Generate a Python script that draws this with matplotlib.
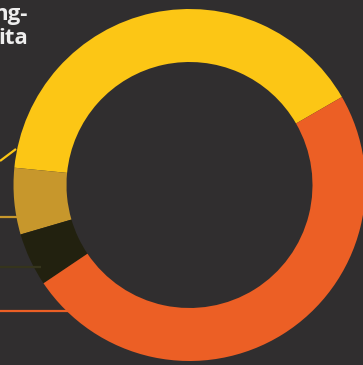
import matplotlib
matplotlib.use("Agg")
import matplotlib.pyplot as plt

# Data
categories = ["Yellow", "Tan", "Dark", "Orange"]
values = [40.1, 6.1, 4.9, 48.9]
colors = ["#fcc615", "#c7972c", "#22210f", "#ec5f25"]
label_text = "ng-\nita"

W, H = 363, 365
bg = "#302e2f"
fig = plt.figure(figsize=(W / 100, H / 100), dpi=100, facecolor=bg)
ax = fig.add_axes([0, 0, 1, 1])
ax.set_facecolor(bg)

cx, cy = 189.5, H - 185
R = 176
ax.pie(values, colors=colors, startangle=30, counterclock=True,
       center=(cx, cy), radius=R, frame=True,
       wedgeprops=dict(width=R - 123, linewidth=0))
ax.set_xlim(0, W)
ax.set_ylim(0, H)
ax.set_aspect("equal")
ax.axis("off")

# leader lines (layout)
leaders = [((0, 16), (H - 161, H - 149), colors[0]),
           ((0, 19), (H - 216.5, H - 216.5), colors[1]),
           ((0, 41), (H - 266.5, H - 266.5), "#35341c"),
           ((0, 69), (H - 311, H - 311), colors[3])]
for xs, ys, c in leaders:
    ax.plot(xs, ys, color=c, lw=1.6, solid_capstyle="butt")

ax.text(28, H - 44, label_text, ha="right", va="baseline", color="#eeeeee",
        fontsize=16, fontweight="bold", family="Open Sans", linespacing=1.2,
        multialignment="right")

fig.savefig("out.png", dpi=100, facecolor=bg)
